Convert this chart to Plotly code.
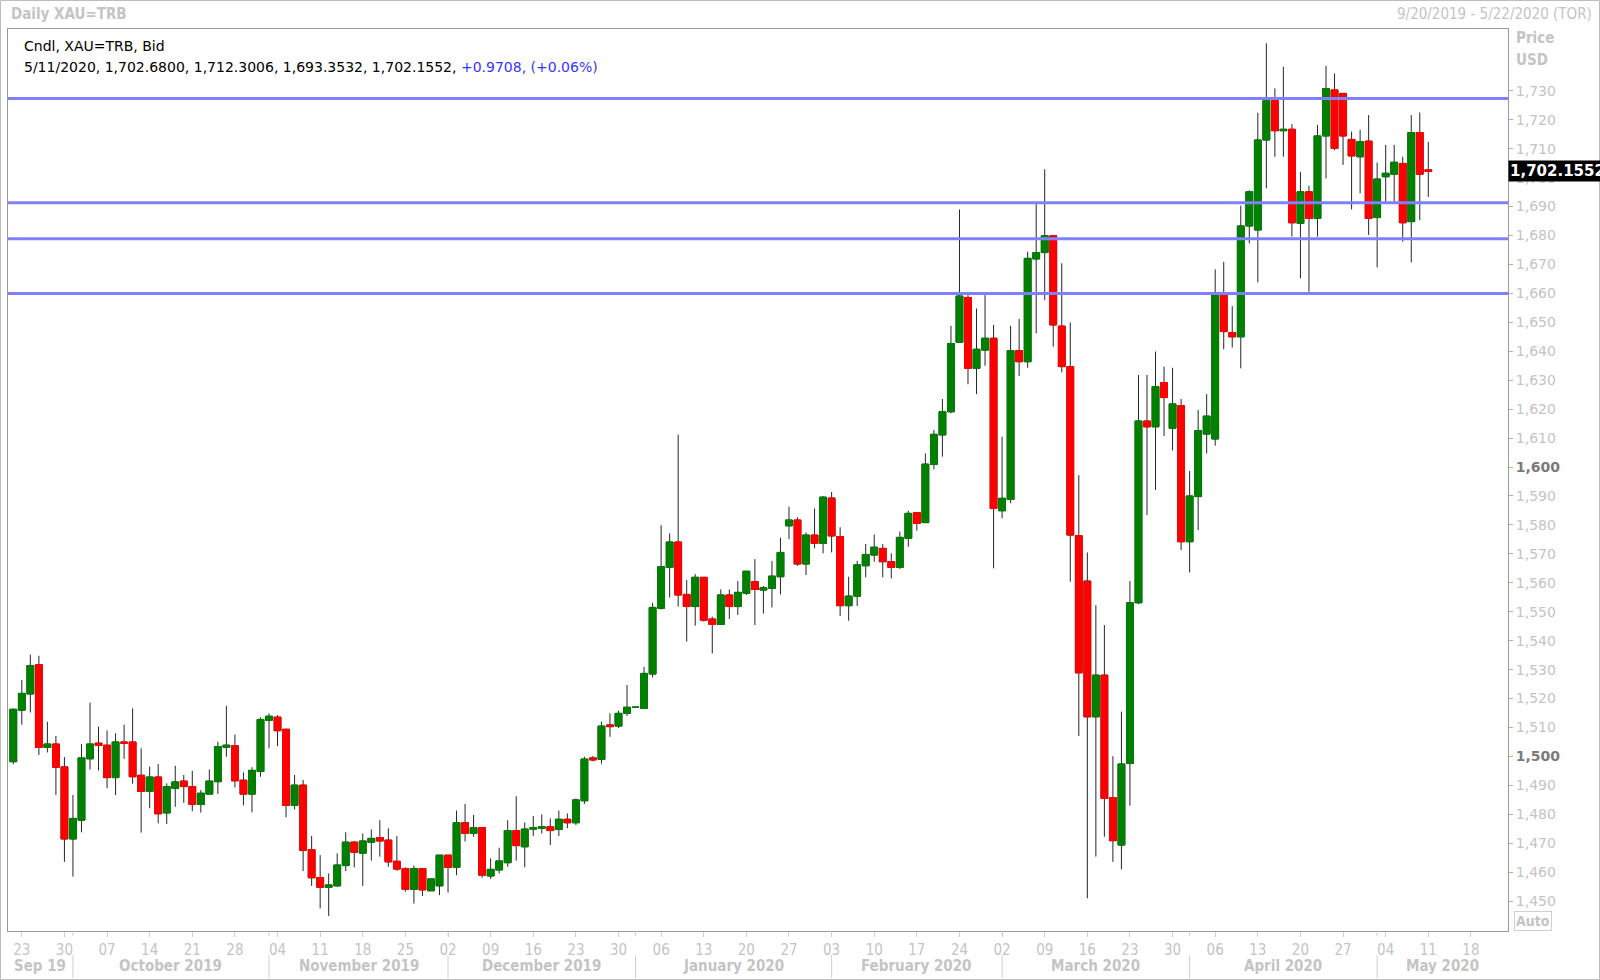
import pandas as pd
import numpy as np
import plotly.graph_objects as go

# ---------------- data ----------------
dates = pd.bdate_range("2019-09-20", "2020-05-11")

open_prices = [
    1498.2, 1516.0, 1521.6, 1531.7, 1503.1, 1504.3, 1496.4, 1471.5, 1478.0, 1499.2,
    1504.6, 1503.9, 1492.7, 1505.0, 1505.0, 1493.5, 1487.9, 1492.9, 1480.5, 1489.0,
    1491.5, 1489.6, 1483.4, 1487.0, 1491.3, 1503.2, 1503.7, 1491.8, 1487.0, 1494.8,
    1512.5, 1513.6, 1509.4, 1483.1, 1490.1, 1467.8, 1458.2, 1454.8, 1455.3, 1462.3,
    1470.4, 1466.6, 1470.4, 1472.0, 1471.1, 1463.8, 1461.3, 1454.1, 1461.3, 1453.6,
    1455.3, 1465.9, 1461.7, 1477.1, 1473.4, 1475.4, 1458.7, 1460.8, 1463.3, 1474.4,
    1468.8, 1474.9, 1475.2, 1475.7, 1474.8, 1478.3, 1477.1, 1484.7, 1499.5, 1499.0,
    1510.9, 1510.5, 1514.9, 1517.0, 1516.6, 1528.5, 1551.2, 1565.3, 1574.1, 1556.0,
    1551.8, 1561.9, 1547.5, 1545.6, 1555.8, 1551.8, 1556.4, 1560.4, 1557.5, 1558.1,
    1562.1, 1579.7, 1581.7, 1566.5, 1576.5, 1573.6, 1589.3, 1576.0, 1552.1, 1555.4,
    1565.9, 1569.6, 1571.9, 1567.3, 1565.3, 1575.4, 1584.3, 1580.8, 1600.9, 1611.1,
    1619.1, 1643.1, 1658.6, 1634.1, 1640.4, 1644.5, 1584.9, 1588.8, 1640.2, 1636.4,
    1671.9, 1674.1, 1679.9, 1648.7, 1634.7, 1576.3, 1560.6, 1513.7, 1528.1, 1485.8,
    1469.4, 1497.6, 1553.1, 1615.9, 1613.9, 1629.2, 1613.4, 1621.2, 1574.2, 1589.8,
    1611.4, 1609.7, 1659.4, 1646.5, 1645.0, 1683.3, 1681.9, 1713.0, 1726.6, 1716.2,
    1716.7, 1684.2, 1695.1, 1685.9, 1714.4, 1730.3, 1729.1, 1713.2, 1707.2, 1712.6,
    1686.2, 1700.3, 1701.2, 1704.9, 1684.8, 1715.6, 1702.68,
]
high_prices = [
    1516.6, 1526.4, 1535.2, 1534.8, 1512.0, 1507.1, 1499.8, 1486.7, 1504.3, 1518.6,
    1510.3, 1509.0, 1508.0, 1511.0, 1516.6, 1502.8, 1496.5, 1497.4, 1490.7, 1496.8,
    1493.6, 1495.0, 1488.4, 1495.5, 1505.1, 1517.5, 1507.6, 1494.5, 1496.3, 1513.5,
    1514.9, 1514.3, 1509.6, 1493.6, 1491.9, 1472.5, 1465.9, 1459.6, 1466.5, 1473.8,
    1470.8, 1473.4, 1474.8, 1478.0, 1475.2, 1472.5, 1461.7, 1462.3, 1461.5, 1457.7,
    1465.9, 1466.0, 1481.3, 1483.6, 1479.8, 1475.6, 1464.8, 1468.5, 1478.0, 1486.3,
    1477.2, 1479.4, 1480.0, 1478.6, 1481.3, 1480.3, 1485.5, 1499.9, 1500.2, 1512.0,
    1514.9, 1515.8, 1524.7, 1517.0, 1531.0, 1553.1, 1579.9, 1577.1, 1611.2, 1561.0,
    1563.0, 1562.0, 1548.3, 1557.7, 1557.7, 1560.6, 1564.0, 1568.2, 1558.9, 1567.5,
    1575.6, 1586.3, 1582.6, 1577.4, 1585.7, 1590.0, 1591.4, 1579.2, 1562.1, 1567.6,
    1573.4, 1576.7, 1573.4, 1570.2, 1577.7, 1584.9, 1584.3, 1604.7, 1612.8, 1623.5,
    1648.8, 1689.0, 1659.4, 1654.8, 1659.4, 1649.1, 1610.5, 1648.8, 1651.2, 1674.4,
    1690.9, 1702.9, 1680.0, 1670.4, 1649.9, 1597.2, 1570.5, 1552.3, 1545.4, 1500.1,
    1515.5, 1560.6, 1631.8, 1631.8, 1639.9, 1634.7, 1634.3, 1623.5, 1598.6, 1619.7,
    1625.2, 1668.3, 1670.9, 1655.6, 1690.3, 1695.6, 1722.4, 1746.4, 1730.8, 1738.3,
    1718.5, 1702.0, 1697.2, 1718.2, 1738.6, 1736.0, 1729.1, 1715.9, 1716.5, 1721.6,
    1705.2, 1711.3, 1711.3, 1707.2, 1721.6, 1722.5, 1712.30,
]
low_prices = [
    1497.3, 1511.0, 1515.2, 1500.5, 1501.4, 1486.7, 1463.6, 1458.5, 1473.8, 1495.5,
    1495.2, 1489.0, 1486.7, 1499.2, 1490.6, 1473.7, 1482.1, 1476.9, 1476.7, 1482.6,
    1484.0, 1481.1, 1480.6, 1487.0, 1487.0, 1499.9, 1489.3, 1483.1, 1480.7, 1493.0,
    1502.8, 1503.6, 1479.0, 1481.7, 1460.4, 1455.3, 1447.5, 1444.9, 1455.0, 1460.4,
    1461.7, 1455.3, 1464.0, 1465.4, 1461.9, 1460.5, 1453.3, 1449.2, 1451.8, 1453.6,
    1452.1, 1453.0, 1459.0, 1470.6, 1472.3, 1458.1, 1457.7, 1459.6, 1461.9, 1464.0,
    1461.7, 1472.5, 1473.4, 1469.4, 1472.5, 1475.2, 1476.3, 1483.6, 1498.3, 1497.5,
    1506.8, 1509.8, 1514.0, 1517.0, 1516.6, 1527.3, 1550.8, 1554.9, 1551.8, 1539.7,
    1545.2, 1546.6, 1535.6, 1545.6, 1547.5, 1548.9, 1555.8, 1545.4, 1549.4, 1551.5,
    1556.0, 1575.1, 1565.9, 1562.7, 1571.9, 1570.2, 1570.5, 1548.5, 1546.9, 1552.0,
    1561.9, 1567.3, 1561.9, 1561.5, 1564.8, 1572.5, 1578.0, 1580.8, 1599.2, 1603.6,
    1618.6, 1643.1, 1628.6, 1625.2, 1635.0, 1565.0, 1582.3, 1587.5, 1631.5, 1634.3,
    1646.2, 1657.7, 1641.6, 1632.7, 1560.4, 1507.1, 1451.0, 1465.4, 1472.3, 1463.6,
    1461.0, 1483.0, 1552.7, 1583.4, 1592.1, 1610.7, 1605.7, 1571.3, 1563.6, 1578.2,
    1604.7, 1607.4, 1640.7, 1641.3, 1634.1, 1677.3, 1663.8, 1696.3, 1707.2, 1707.2,
    1679.6, 1665.2, 1660.6, 1679.6, 1699.7, 1709.5, 1704.4, 1689.0, 1694.6, 1680.2,
    1669.0, 1691.7, 1691.7, 1677.9, 1670.7, 1685.3, 1693.35,
]
close_prices = [
    1516.3, 1521.8, 1531.4, 1503.1, 1504.3, 1496.3, 1471.5, 1478.6, 1499.5, 1504.3,
    1503.8, 1492.7, 1505.0, 1504.6, 1493.0, 1487.9, 1492.9, 1480.2, 1489.6, 1491.2,
    1489.6, 1483.4, 1487.3, 1491.5, 1503.4, 1503.9, 1491.6, 1487.0, 1495.2, 1512.8,
    1513.9, 1508.9, 1483.1, 1490.1, 1467.6, 1458.1, 1454.8, 1455.6, 1462.5, 1470.4,
    1466.9, 1470.8, 1471.7, 1470.8, 1463.6, 1461.1, 1454.1, 1461.3, 1453.9, 1457.7,
    1465.9, 1461.7, 1477.1, 1473.4, 1475.4, 1459.0, 1461.0, 1463.9, 1474.4, 1469.2,
    1474.9, 1475.4, 1475.7, 1474.4, 1478.3, 1477.1, 1485.0, 1499.1, 1498.8, 1510.5,
    1510.3, 1514.9, 1517.0, 1517.0, 1528.7, 1551.5, 1565.6, 1574.1, 1555.8, 1551.8,
    1561.9, 1547.1, 1545.6, 1555.8, 1551.8, 1556.7, 1564.0, 1557.7, 1558.3, 1562.3,
    1570.5, 1581.7, 1566.5, 1576.5, 1573.6, 1589.6, 1576.2, 1552.1, 1555.4, 1566.2,
    1569.8, 1572.3, 1567.3, 1565.3, 1575.7, 1584.0, 1580.5, 1601.0, 1611.3, 1619.1,
    1642.7, 1659.1, 1634.1, 1640.7, 1644.5, 1585.7, 1589.2, 1640.2, 1636.4, 1672.1,
    1674.1, 1679.9, 1649.1, 1634.7, 1576.5, 1528.9, 1513.7, 1528.1, 1485.5, 1470.9,
    1497.4, 1553.1, 1615.9, 1613.9, 1627.8, 1624.0, 1621.8, 1574.2, 1590.0, 1612.6,
    1617.6, 1659.6, 1646.8, 1645.0, 1683.3, 1695.1, 1713.0, 1726.6, 1716.2, 1716.7,
    1684.4, 1695.1, 1685.9, 1714.4, 1730.8, 1710.1, 1714.4, 1707.5, 1712.4, 1685.9,
    1699.5, 1701.5, 1705.3, 1684.4, 1715.6, 1701.2, 1702.16,
]

levels = [1727.3, 1691.3, 1678.9, 1660.0]
y_tick_values = list(range(1450, 1731, 10))
bold_ticks = [1500, 1600]
week_ticks = pd.date_range("2019-09-23", "2020-05-18", freq="7D")
month_starts = ["2019-10-01", "2019-11-01", "2019-12-02", "2020-01-01",
                "2020-02-03", "2020-03-02", "2020-04-01", "2020-05-01"]
month_labels = ["Sep 19", "October 2019", "November 2019", "December 2019",
                "January 2020", "February 2020", "March 2020", "April 2020", "May 2020"]
last_price = 1702.1552

# ---------------- figure ----------------
W, H = 1600, 980
ML, MR, MT, MB = 8, 92, 29, 49
PW, PH = W - ML - MR, H - MT - MB

noon = pd.Timedelta(hours=12)
xs = dates + noon

o = np.array(open_prices); c = np.array(close_prices)
body_hi = np.where(o == c, np.nan, np.maximum(o, c))
body_lo = np.where(o == c, np.nan, np.minimum(o, c))

GREEN, RED, WICK = "#008000", "#ff0000", "#262626"

fig = go.Figure()
fig.add_trace(go.Candlestick(
    x=xs, open=open_prices, high=high_prices, low=low_prices, close=close_prices,
    increasing=dict(line=dict(color=WICK, width=1), fillcolor=GREEN),
    decreasing=dict(line=dict(color=WICK, width=1), fillcolor=RED),
    whiskerwidth=0, showlegend=False, hoverinfo="skip"))
fig.add_trace(go.Candlestick(
    x=xs, open=open_prices, high=body_hi, low=body_lo, close=close_prices,
    increasing=dict(line=dict(color=GREEN, width=1), fillcolor=GREEN),
    decreasing=dict(line=dict(color=RED, width=1), fillcolor=RED),
    whiskerwidth=0, showlegend=False, name="XAU=TRB"))

# horizontal levels
for lv in levels:
    fig.add_shape(type="line", xref="paper", yref="y", x0=0, x1=1, y0=lv, y1=lv,
                  line=dict(color="#8080ff", width=3), layer="above")

# calendar for label positions
cal = pd.bdate_range("2019-09-20", "2020-05-22")
cal_idx = {d: i for i, d in enumerate(cal)}
px_per_day = PW / ((len(cal) - 1 + 0.35) + 0.62)
left_pos, right_pos = -0.62, len(cal) - 1 + 0.35
ms_pos = [cal_idx[pd.Timestamp(m)] for m in month_starts]
bounds = [left_pos] + ms_pos + [right_pos]

LG = "#c4c4c4"
COND = "DejaVu Sans Condensed, Liberation Sans Narrow, DejaVu Sans, sans-serif"
MONTH_FONT = dict(family=COND, size=15, color=LG)
for i, lab in enumerate(month_labels):
    mid = (bounds[i] + bounds[i + 1]) / 2
    k = int(round(mid))
    fig.add_annotation(x=cal[k] + noon, xref="x", y=0, yref="paper",
                       xshift=(mid - k) * px_per_day, yshift=-35, yanchor="middle",
                       text="<b>" + lab + "</b>", showarrow=False, font=MONTH_FONT)
for p in ms_pos:
    xd = cal[p] + noon
    fig.add_shape(type="line", xref="x", yref="paper", x0=xd, x1=xd,
                  y0=-24 / PH, y1=-47 / PH, line=dict(color="#d0d0d0", width=1))
    fig.add_shape(type="line", xref="x", yref="paper", x0=xd, x1=xd,
                  y0=0, y1=-5 / PH, line=dict(color="#d0d0d0", width=1))

# y tick text
ytext = []
for v in y_tick_values:
    s = f"{v:,}"
    if v in bold_ticks:
        s = f"<span style='color:#7a7a7a'><b>{s}</b></span>"
    ytext.append(s)

TXT = "DejaVu Sans, Verdana, sans-serif"
# header texts
fig.add_annotation(x=-ML / PW + 9 / PW, xref="paper", xanchor="left", y=1 + 15 / PH, yref="paper",
                   yanchor="middle", text="<b>Daily XAU=TRB</b>", showarrow=False,
                   font=dict(family=COND, size=15, color=LG))
fig.add_annotation(x=1 + (MR - 6) / PW, xref="paper", xanchor="right", y=1 + 15 / PH, yref="paper",
                   yanchor="middle", text="9/20/2019 - 5/22/2020 (TOR)", showarrow=False,
                   font=dict(family=COND, size=15, color=LG))
fig.add_annotation(x=1 + 6 / PW, xref="paper", xanchor="left", y=1 - 9 / PH, yref="paper",
                   yanchor="middle", text="<b>Price</b>", showarrow=False,
                   font=dict(family=COND, size=15, color=LG))
fig.add_annotation(x=1 + 6 / PW, xref="paper", xanchor="left", y=1 - 31 / PH, yref="paper",
                   yanchor="middle", text="<b>USD</b>", showarrow=False,
                   font=dict(family=COND, size=15, color=LG))
# info lines
fig.add_annotation(x=14 / PW, xref="paper", xanchor="left", y=1 - 17 / PH, yref="paper",
                   yanchor="middle", text="Cndl, XAU=TRB, Bid", showarrow=False,
                   font=dict(family=TXT, size=14, color="#000000"))
fig.add_annotation(x=14 / PW, xref="paper", xanchor="left", y=1 - 38 / PH, yref="paper",
                   yanchor="middle",
                   text="5/11/2020, 1,702.6800, 1,712.3006, 1,693.3532, 1,702.1552, "
                        "<span style='color:#3535ff'>+0.9708, (+0.06%)</span>",
                   showarrow=False, font=dict(family=TXT, size=14, color="#000000"))
# last price tag
fig.add_annotation(x=1, xref="paper", xanchor="left", y=last_price, yref="y", yanchor="middle",
                   text=f"<b>{last_price:,.4f}</b>", showarrow=False, bgcolor="#000000",
                   borderpad=1, font=dict(family=TXT, size=15, color="#ffffff"))
# Auto box
fig.add_annotation(x=1 + 6 / PW, xref="paper", xanchor="left", y=0, yref="paper", yanchor="bottom",
                   text="<b>Auto</b>", showarrow=False, bordercolor="#d0d0d0", borderwidth=1,
                   borderpad=1, bgcolor="#ffffff",
                   font=dict(family=COND, size=14, color=LG))
# outer frame
fig.add_shape(type="rect", xref="paper", yref="paper",
              x0=-ML / PW + 0.5 / PW, x1=1 + (MR - 0.5) / PW,
              y0=-(MB - 0.5) / PH, y1=1 + (MT - 0.5) / PH,
              line=dict(color="#bdbdbd", width=1))

fig.update_layout(
    width=W, height=H, margin=dict(l=ML, r=MR, t=MT, b=MB, pad=0),
    paper_bgcolor="#ffffff", plot_bgcolor="#ffffff",
    showlegend=False, boxgap=0.2, boxgroupgap=0, boxmode="overlay",
    xaxis=dict(
        type="date", rangeslider=dict(visible=False),
        rangebreaks=[dict(bounds=["sat", "mon"])],
        range=[dates[0] + noon - pd.Timedelta(hours=0.62 * 24),
               cal[-1] + noon + pd.Timedelta(hours=0.35 * 24)],
        tickvals=week_ticks + noon, ticktext=[d.strftime("%d") for d in week_ticks],
        ticks="outside", ticklen=5, tickcolor="#d0d0d0", tickwidth=1,
        tickfont=dict(family=COND, size=15, color=LG),
        showgrid=False, zeroline=False, showline=True, linecolor="#9a9a9a", linewidth=1, mirror=True,
    ),
    yaxis=dict(
        side="right", range=[1439.7, 1751.35], tickvals=y_tick_values, ticktext=ytext,
        ticks="outside", ticklen=4, tickcolor="#b0b0b0", tickwidth=1,
        tickfont=dict(family=TXT, size=14, color=LG),
        showgrid=False, zeroline=False, showline=True, linecolor="#9a9a9a", linewidth=1, mirror=True,
    ),
    hovermode=False,
)

fig.write_html("out.html", config={"displayModeBar": False},
               post_script="document.body.style.margin='0';document.body.style.overflow='hidden';")
